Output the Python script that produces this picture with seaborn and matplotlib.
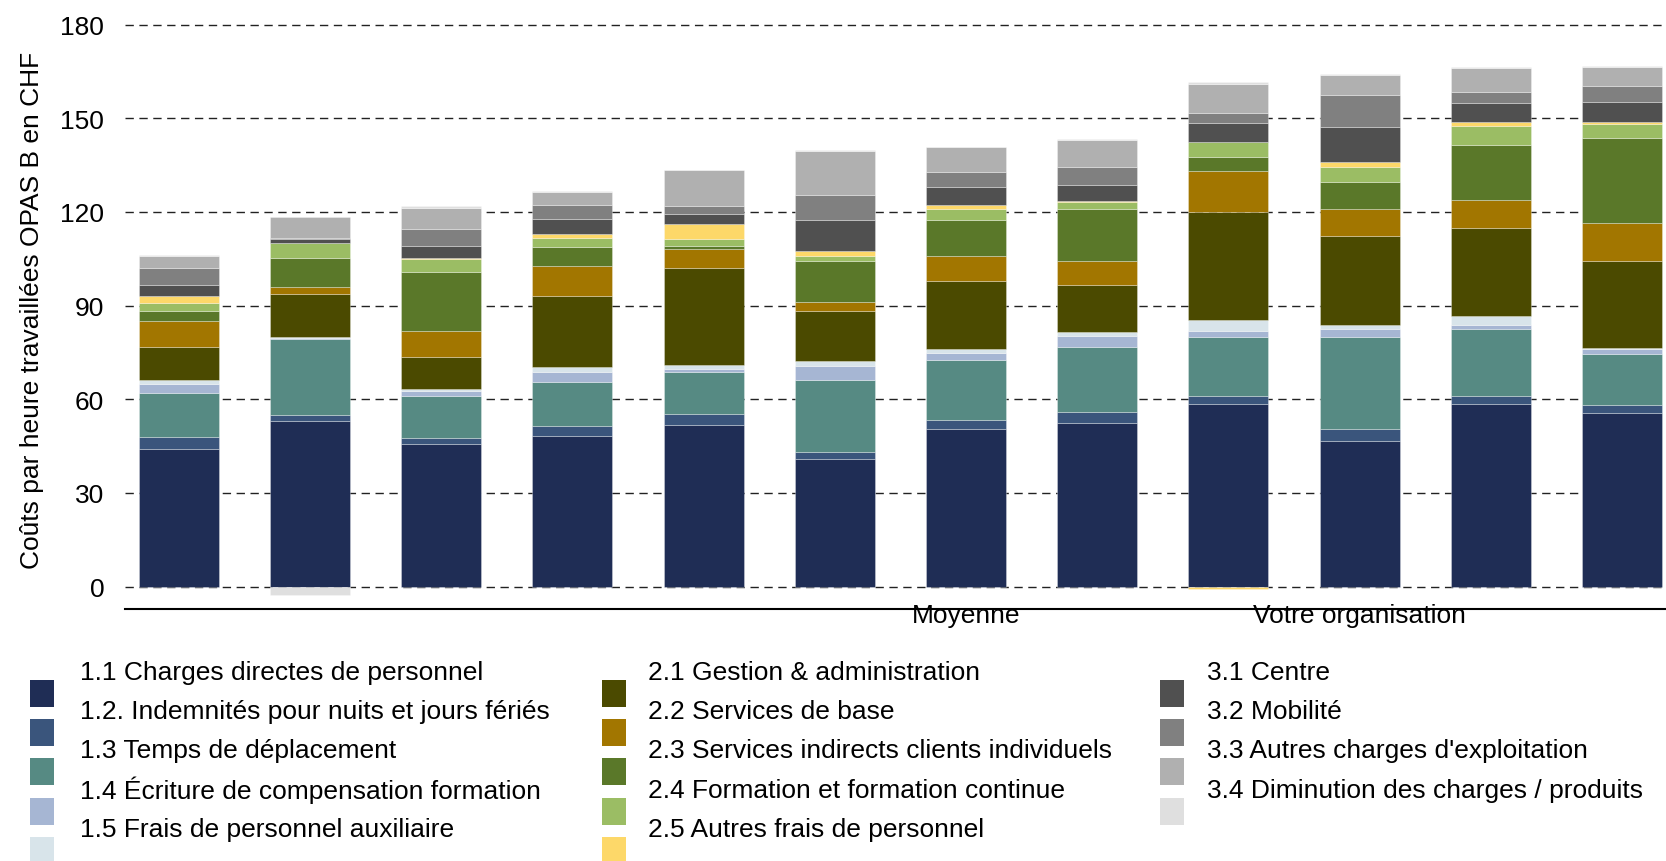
import numpy as np
import matplotlib
matplotlib.use("Agg")
import matplotlib.pyplot as plt
from matplotlib.patches import Rectangle
import seaborn as sns

sns.set_theme(style="white")
plt.rcParams["font.family"] = ["Liberation Sans", "DejaVu Sans"]

# Cost categories (stack order, bottom to top) and their colours
categories = [
    "1.1 Charges directes de personnel",
    "1.2. Indemnités pour nuits et jours fériés",
    "1.3 Temps de déplacement",
    "1.4 Écriture de compensation formation",
    "1.5 Frais de personnel auxiliaire",
    "2.1 Gestion & administration",
    "2.2 Services de base",
    "2.3 Services indirects clients individuels",
    "2.4 Formation et formation continue",
    "2.5 Autres frais de personnel",
    "3.1 Centre",
    "3.2 Mobilité",
    "3.3 Autres charges d'exploitation",
    "3.4 Diminution des charges / produits",
]
colors = [
    "#1f2d55", "#3a557c", "#568a83", "#a6b6d3", "#d8e4ea",
    "#4b4a00", "#a27600", "#5a7829", "#9bbd64", "#fdd869",
    "#505050", "#808080", "#b0b0b0", "#dfdfdf",
]

# Costs per worked hour (CHF), one value per bar
c1_1 = [44.2, 53.2, 45.8, 48.35, 51.8, 41.0, 50.6, 52.5, 58.4, 46.75, 58.6, 55.7]
c1_2 = [3.6, 1.8, 1.9, 3.1, 3.5, 2.1, 2.9, 3.4, 2.55, 3.75, 2.45, 2.55]
c1_3 = [14.2, 24.2, 13.45, 14.0, 13.35, 23.15, 19.0, 20.9, 19.1, 29.55, 21.55, 16.35]
c1_4 = [3.0, 0.55, 1.6, 3.3, 1.05, 4.5, 2.25, 3.5, 1.9, 2.35, 1.2, 1.5]
c1_5 = [1.1, 0.2, 0.5, 1.7, 1.4, 1.4, 1.3, 1.4, 3.4, 1.5, 2.9, 0.4]
c2_1 = [10.75, 13.8, 10.35, 22.5, 30.85, 16.0, 21.8, 14.95, 34.7, 28.5, 28.05, 27.9]
c2_2 = [8.2, 2.35, 8.2, 9.8, 6.3, 3.0, 8.0, 7.5, 13.0, 8.65, 9.2, 11.95]
c2_3 = [3.3, 9.07, 19.1, 5.9, 0.75, 13.15, 11.55, 16.75, 4.6, 8.65, 17.6, 27.4]
c2_4 = [2.35, 4.8, 4.15, 2.9, 2.35, 1.6, 3.6, 2.45, 4.8, 4.7, 6.1, 4.3]
c2_5 = [2.45, 0.2, 0.2, 1.4, 4.7, 1.5, 1.3, 0.2, -0.7, 1.7, 1.2, 0.65]
c3_1 = [3.4, 1.3, 3.85, 4.7, 3.3, 10.0, 5.55, 5.1, 6.2, 11.1, 6.1, 6.4]
c3_2 = [5.65, 0.3, 5.35, 4.6, 2.45, 8.0, 4.9, 5.8, 2.9, 10.15, 3.6, 5.1]
c3_3 = [3.7, 6.6, 6.7, 4.25, 11.6, 14.0, 7.9, 8.65, 9.5, 6.4, 7.5, 6.1]
c3_4 = [0.3, -2.7, 0.65, 0.3, 0.0, 0.3, 0.3, 0.35, 0.5, 0.3, 0.4, 0.4]

series = [c1_1, c1_2, c1_3, c1_4, c1_5, c2_1, c2_2, c2_3, c2_4, c2_5,
          c3_1, c3_2, c3_3, c3_4]

group_labels = ["Moyenne", "Votre organisation"]
group_ticks = [6, 9]
y_ticks = [0, 30, 60, 90, 120, 150, 180]
y_label = "Coûts par heure travaillées OPAS B en CHF"

FS = 19
W, H = 1666, 862
fig = plt.figure(figsize=(W / 100, H / 100), dpi=100)
ax = fig.add_axes([125 / W, 1 - 610 / H, 1541 / W, 600 / H])

x = np.arange(len(c1_1))
pos_base = np.zeros(len(x))
neg_base = np.zeros(len(x))
for vals, col in zip(series, colors):
    v = np.asarray(vals, dtype=float)
    bottom = np.where(v >= 0, pos_base, neg_base)
    sns.barplot(x=x, y=v, bottom=bottom, color=col, saturation=1,
                width=0.61, errorbar=None, native_scale=True, ax=ax,
                edgecolor=(1, 1, 1, 0.35), linewidth=0.6)
    pos_base = pos_base + np.clip(v, 0, None)
    neg_base = neg_base + np.clip(v, None, 0)

ax.set_xlim(-0.41, 11.335)
ax.set_ylim(-7.15, 185)
ax.set_yticks(y_ticks)
ax.set_yticklabels([str(t) for t in y_ticks])
ax.set_xticks(group_ticks)
ax.set_xticklabels(group_labels)
ax.set_xlabel("")
ax.set_ylabel("")

ax.set_axisbelow(True)
ax.yaxis.grid(True, color="#222222", linestyle=(0, (6, 4)), linewidth=1.0)
ax.xaxis.grid(False)
for side in ("left", "right", "top"):
    ax.spines[side].set_visible(False)
ax.spines["bottom"].set_color("black")
ax.spines["bottom"].set_linewidth(1.5)
ax.tick_params(axis="y", length=0, pad=15, labelsize=FS, labelcolor="black")
ax.tick_params(axis="x", length=0, pad=-4.5, labelsize=FS, labelcolor="black")

fig.text(32 / W, 1 - 310 / H, y_label, rotation=90, ha="center", va="center",
         fontsize=FS, color="black")

# Legend in three columns
col_patch_x = [30, 602, 1160]
col_label_x = [80, 648, 1207]
groups = [range(0, 5), range(5, 10), range(10, 14)]
row_h = 39.2
for c, idxs in enumerate(groups):
    for r, i in enumerate(idxs):
        ty = 673 + row_h * r
        fig.text(col_label_x[c] / W, 1 - ty / H, categories[i], ha="left",
                 va="center", fontsize=FS, color="black")
        top = 681 + row_h * r
        fig.add_artist(Rectangle((col_patch_x[c] / W, 1 - (top + 27) / H),
                                 24 / W, 27 / H, transform=fig.transFigure,
                                 facecolor=colors[i], edgecolor="none"))

fig.savefig("out.png", dpi=100)
